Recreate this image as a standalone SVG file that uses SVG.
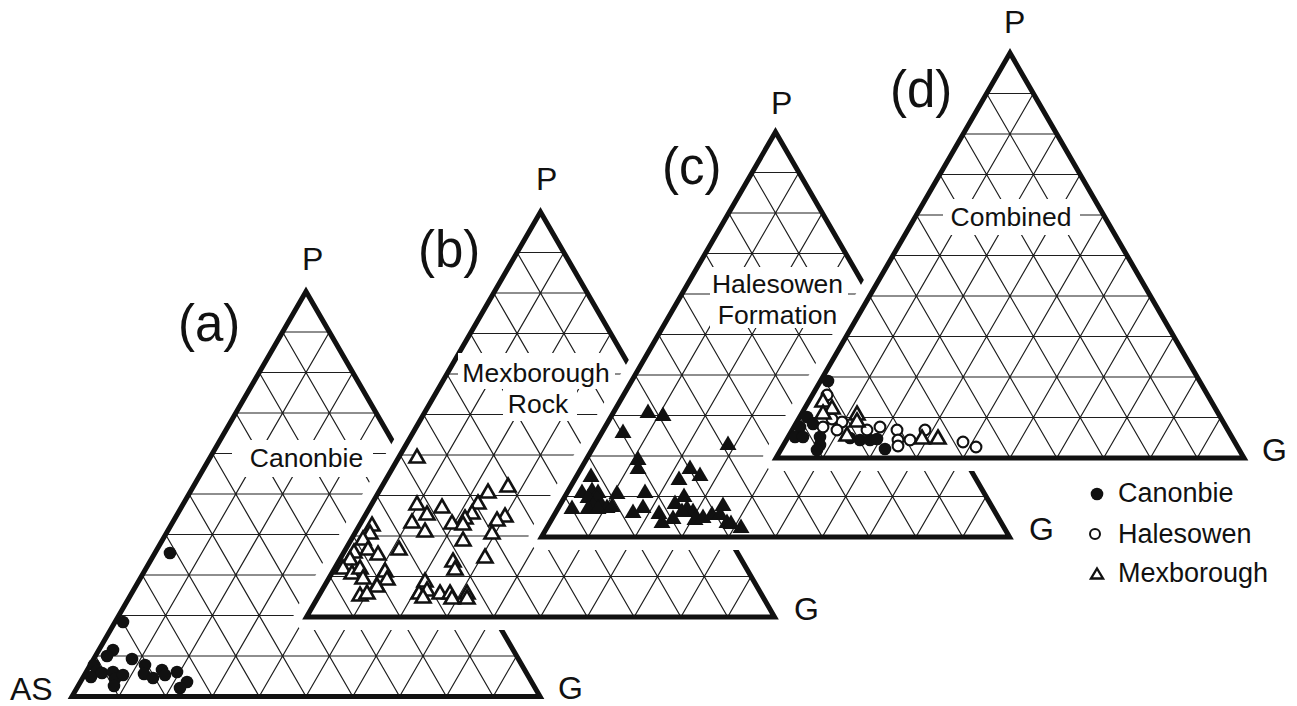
<svg xmlns="http://www.w3.org/2000/svg" xmlns:xlink="http://www.w3.org/1999/xlink" width="1297" height="706" viewBox="0 0 1297 706">
<style>
.border{fill:none;stroke:#111;stroke-width:5;stroke-linejoin:miter}
.grid{fill:none;stroke:#1e1e1e;stroke-width:1.2}
.halo{fill:#fff;stroke:#fff;stroke-width:26;stroke-linejoin:round}
.box{fill:#fff}
.lbl{font-family:"Liberation Sans",Arial,sans-serif;font-size:26.5px;fill:#111;text-anchor:middle}
.leg{font-family:"Liberation Sans",Arial,sans-serif;font-size:27px;fill:#111}
.ax{font-family:"Liberation Sans",Arial,sans-serif;font-size:32px;fill:#111}
.tag{font-family:"Liberation Sans",Arial,sans-serif;font-size:51px;fill:#111}
</style>
<defs>
<g id="tri">
<polygon points="0,0 234,405 -234,405" fill="#fff"/>
<path class="grid" d="M-23.4,40.5H23.4M-46.8,81H46.8M-70.2,121.5H70.2M-93.6,162H93.6M-117,202.5H117M-140.4,243H140.4M-163.8,283.5H163.8M-187.2,324H187.2M-210.6,364.5H210.6
M-187.2,405L23.4,40.5M-140.4,405L46.8,81M-93.6,405L70.2,121.5M-46.8,405L93.6,162M0,405L117,202.5M46.8,405L140.4,243M93.6,405L163.8,283.5M140.4,405L187.2,324M187.2,405L210.6,364.5
M-187.2,405L-210.6,364.5M-140.4,405L-187.2,324M-93.6,405L-163.8,283.5M-46.8,405L-140.4,243M0,405L-117,202.5M46.8,405L-93.6,162M93.6,405L-70.2,121.5M140.4,405L-46.8,81M187.2,405L-23.4,40.5"/>
<polygon class="border" points="0,0 234,405 -234,405"/>
</g>
<circle id="fc" r="6.3" fill="#111"/>
<circle id="oc" r="5.4" fill="#fff" stroke="#111" stroke-width="2.1"/>
<path id="ot" d="M0,-7.5L7.5,5.5H-7.5Z" fill="#fff" stroke="#111" stroke-width="2.6"/>
<path id="ft" d="M0,-8.5L8.5,6H-8.5Z" fill="#111"/>
</defs>
<rect width="1297" height="706" fill="#fff"/>

<g id="ternary-a">
<use xlink:href="#tri" href="#tri" transform="translate(306,291.5)"/>
<rect class="box" x="232" y="440" width="141" height="37"/>
<text class="lbl" x="306.5" y="467">Canonbie</text>
<g id="points-a">
<use href="#fc" x="170" y="553"/><use href="#fc" x="123" y="622"/><use href="#fc" x="113" y="650"/><use href="#fc" x="107" y="656"/><use href="#fc" x="132" y="659"/><use href="#fc" x="94" y="665"/><use href="#fc" x="97" y="671"/><use href="#fc" x="91" y="677"/><use href="#fc" x="102" y="673"/><use href="#fc" x="113" y="672"/><use href="#fc" x="115" y="679"/><use href="#fc" x="114" y="686"/><use href="#fc" x="123" y="675"/><use href="#fc" x="145" y="665"/><use href="#fc" x="144" y="674"/><use href="#fc" x="153" y="678"/><use href="#fc" x="162" y="670"/><use href="#fc" x="165" y="675"/><use href="#fc" x="177" y="672"/><use href="#fc" x="187" y="682"/><use href="#fc" x="180" y="688"/>
</g>
</g>

<g id="ternary-b">
<polygon class="halo" points="540.5,212 774.5,617 306.5,617"/>
<use href="#tri" transform="translate(540.5,212)"/>
<rect class="box" x="458" y="353" width="157" height="36"/>
<rect class="box" x="503" y="389" width="74" height="32"/>
<text class="lbl" x="536" y="382">Mexborough</text>
<text class="lbl" x="538" y="413">Rock</text>
<g id="points-b">
<use href="#ot" x="417" y="457"/><use href="#ot" x="488" y="492"/><use href="#ot" x="508" y="486"/><use href="#ot" x="417" y="504"/><use href="#ot" x="442" y="507"/><use href="#ot" x="427" y="514"/><use href="#ot" x="412" y="522"/><use href="#ot" x="478" y="503"/><use href="#ot" x="472" y="513"/><use href="#ot" x="465" y="518"/><use href="#ot" x="452" y="523"/><use href="#ot" x="463" y="524"/><use href="#ot" x="505" y="516"/><use href="#ot" x="497" y="520"/><use href="#ot" x="425" y="531"/><use href="#ot" x="492" y="533"/><use href="#ot" x="463" y="540"/><use href="#ot" x="372" y="525"/><use href="#ot" x="370" y="533"/><use href="#ot" x="363" y="539"/><use href="#ot" x="368" y="549"/><use href="#ot" x="378" y="554"/><use href="#ot" x="399" y="549"/><use href="#ot" x="354" y="552"/><use href="#ot" x="350" y="559"/><use href="#ot" x="343" y="568"/><use href="#ot" x="352" y="573"/><use href="#ot" x="360" y="568"/><use href="#ot" x="363" y="578"/><use href="#ot" x="385" y="571"/><use href="#ot" x="387" y="579"/><use href="#ot" x="377" y="586"/><use href="#ot" x="360" y="595"/><use href="#ot" x="367" y="593"/><use href="#ot" x="453" y="561"/><use href="#ot" x="455" y="569"/><use href="#ot" x="485" y="557"/><use href="#ot" x="425" y="581"/><use href="#ot" x="419" y="593"/><use href="#ot" x="427" y="590"/><use href="#ot" x="423" y="597"/><use href="#ot" x="440" y="593"/><use href="#ot" x="450" y="593"/><use href="#ot" x="452" y="598"/><use href="#ot" x="467" y="593"/><use href="#ot" x="467" y="598"/>
</g>
</g>

<g id="ternary-c">
<polygon class="halo" points="775.5,132 1009.5,537 541.5,537"/>
<use href="#tri" transform="translate(775.5,132)"/>
<rect class="box" x="710" y="267" width="138" height="61"/>
<text class="lbl" x="777.5" y="293">Halesowen</text>
<text class="lbl" x="777.5" y="324">Formation</text>
<g id="points-c">
<use href="#ft" x="648" y="412"/><use href="#ft" x="663" y="415"/><use href="#ft" x="623" y="432"/><use href="#ft" x="728" y="444"/><use href="#ft" x="638" y="459"/><use href="#ft" x="638" y="468"/><use href="#ft" x="690" y="468"/><use href="#ft" x="700" y="475"/><use href="#ft" x="679" y="479"/><use href="#ft" x="591" y="476"/><use href="#ft" x="582" y="492"/><use href="#ft" x="592" y="490"/><use href="#ft" x="598" y="492"/><use href="#ft" x="588" y="497"/><use href="#ft" x="597" y="498"/><use href="#ft" x="593" y="505"/><use href="#ft" x="602" y="505"/><use href="#ft" x="607" y="507"/><use href="#ft" x="588" y="508"/><use href="#ft" x="598" y="508"/><use href="#ft" x="572" y="508"/><use href="#ft" x="612" y="506"/><use href="#ft" x="617" y="493"/><use href="#ft" x="645" y="492"/><use href="#ft" x="643" y="507"/><use href="#ft" x="633" y="512"/><use href="#ft" x="684" y="496"/><use href="#ft" x="675" y="503"/><use href="#ft" x="687" y="508"/><use href="#ft" x="693" y="511"/><use href="#ft" x="659" y="513"/><use href="#ft" x="662" y="522"/><use href="#ft" x="673" y="518"/><use href="#ft" x="682" y="511"/><use href="#ft" x="695" y="519"/><use href="#ft" x="703" y="517"/><use href="#ft" x="712" y="514"/><use href="#ft" x="723" y="505"/><use href="#ft" x="720" y="514"/><use href="#ft" x="727" y="522"/><use href="#ft" x="731" y="523"/><use href="#ft" x="741" y="527"/>
</g>
</g>

<g id="ternary-d">
<polygon class="halo" points="1010,53 1244,458 776,458"/>
<use href="#tri" transform="translate(1010,53)"/>
<rect class="box" x="943" y="199" width="137" height="36"/>
<text class="lbl" x="1011" y="226">Combined</text>
<g id="points-d">
<use href="#fc" x="828" y="381"/><use href="#fc" x="807" y="417"/><use href="#fc" x="800" y="427"/><use href="#fc" x="795" y="437"/><use href="#fc" x="803" y="437"/><use href="#fc" x="813" y="424"/><use href="#fc" x="820" y="437"/><use href="#fc" x="820" y="445"/><use href="#fc" x="817" y="450"/><use href="#fc" x="850" y="438"/><use href="#fc" x="860" y="440"/><use href="#fc" x="870" y="440"/><use href="#fc" x="885" y="449"/><use href="#fc" x="877" y="439"/>
<use href="#oc" x="827" y="395"/><use href="#oc" x="842" y="422"/><use href="#oc" x="823" y="427"/><use href="#oc" x="837" y="430"/><use href="#oc" x="867" y="430"/><use href="#oc" x="880" y="427"/><use href="#oc" x="897" y="430"/><use href="#oc" x="898" y="440"/><use href="#oc" x="898" y="446"/><use href="#oc" x="910" y="440"/><use href="#oc" x="925" y="430"/><use href="#oc" x="963" y="442"/><use href="#oc" x="976" y="447"/><use href="#oc" x="832" y="419"/>
<use href="#ot" x="823" y="401"/><use href="#ot" x="832" y="408"/><use href="#ot" x="823" y="413"/><use href="#ot" x="857" y="414"/><use href="#ot" x="857" y="421"/><use href="#ot" x="847" y="435"/><use href="#ot" x="922" y="438"/><use href="#ot" x="938" y="438"/>
</g>
</g>

<g id="axis-labels">
<text class="ax" x="302" y="270">P</text>
<text class="ax" x="536" y="190">P</text>
<text class="ax" x="771" y="114">P</text>
<text class="ax" x="1004" y="33">P</text>
<text class="ax" x="10" y="700">AS</text>
<text class="ax" x="558" y="699">G</text>
<text class="ax" x="794" y="620">G</text>
<text class="ax" x="1029" y="540">G</text>
<text class="ax" x="1262" y="461">G</text>
<text class="tag" x="178" y="341">(a)</text>
<text class="tag" x="418" y="267">(b)</text>
<text class="tag" x="662" y="184">(c)</text>
<text class="tag" x="890" y="107">(d)</text>
</g>

<g id="legend">
<circle cx="1097" cy="494" r="6.3" fill="#111"/>
<text class="leg" x="1118" y="502">Canonbie</text>
<circle cx="1095" cy="534" r="5" fill="#fff" stroke="#111" stroke-width="2"/>
<text class="leg" x="1118" y="543">Halesowen</text>
<path d="M1097,568.5L1103,578.5H1091Z" fill="#fff" stroke="#111" stroke-width="2.4"/>
<text class="leg" x="1118" y="582">Mexborough</text>
</g>
</svg>
